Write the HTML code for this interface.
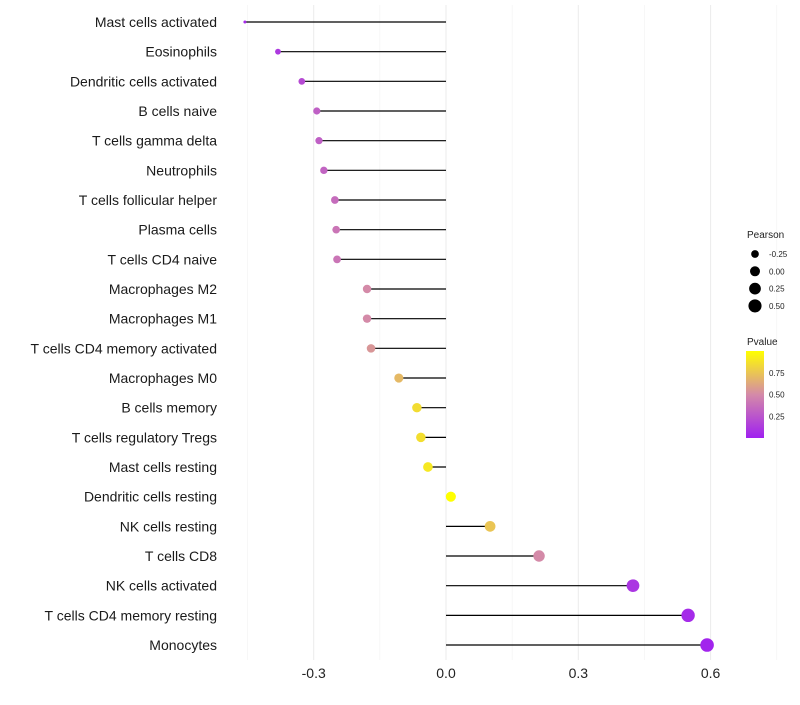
<!DOCTYPE html>
<html><head><meta charset="utf-8"><style>
body{margin:0;background:#fff;font-family:"Liberation Sans",sans-serif}
</style></head><body>
<svg id="c" width="800" height="700" xmlns="http://www.w3.org/2000/svg"></svg>
<script>
const categories=["Mast cells activated","Eosinophils","Dendritic cells activated","B cells naive","T cells gamma delta","Neutrophils","T cells follicular helper","Plasma cells","T cells CD4 naive","Macrophages M2","Macrophages M1","T cells CD4 memory activated","Macrophages M0","B cells memory","T cells regulatory  Tregs ","Mast cells resting","Dendritic cells resting","NK cells resting","T cells CD8","NK cells activated","T cells CD4 memory resting","Monocytes"];
const pearson=[-0.456,-0.381,-0.327,-0.293,-0.288,-0.277,-0.252,-0.249,-0.247,-0.179,-0.179,-0.170,-0.107,-0.066,-0.057,-0.041,0.011,0.10,0.211,0.424,0.549,0.592];
const pvalue=[0.05,0.12,0.2,0.3,0.3,0.32,0.36,0.4,0.4,0.5,0.5,0.55,0.7,0.85,0.86,0.9,1.0,0.75,0.5,0.1,0.05,0.02];
const xTicks=[-0.3,0,0.3,0.6];
const xTickLabels=["-0.3","0.0","0.3","0.6"];
const minorTicks=[-0.45,-0.15,0.15,0.45,0.75];
const sizeLegend=[-0.25,0,0.25,0.5];
const sizeLegendLabels=["-0.25","0.00","0.25","0.50"];
const colorLegend=[0.25,0.5,0.75];
const colorLegendLabels=["0.25","0.50","0.75"];

const NS="http://www.w3.org/2000/svg";
const svg=document.getElementById('c');
const x=v=>446+v*441;
const y=i=>22+i*29.667;
const pmin=Math.min(...pearson),pmax=Math.max(...pearson);
const r=v=>{const t=Math.max(0,Math.min(1,(v-pmin)/(pmax-pmin)));return 1.5+5.3*Math.sqrt(t);};
function lerp(a,b,t){return a.map((c,k)=>Math.round(c+(b[k]-c)*t));}
function col(p){const s=[[160,32,240],[212,138,168],[255,255,0]];let c=p<0.5?lerp(s[0],s[1],p/0.5):lerp(s[1],s[2],(p-0.5)/0.5);return `rgb(${c})`;}
function el(t,a,txt){const e=document.createElementNS(NS,t);for(const k in a)e.setAttribute(k,a[k]);if(txt!=null)e.textContent=txt;svg.appendChild(e);return e;}

minorTicks.forEach(v=>{const l=el('line',{x1:x(v),x2:x(v),y1:5,y2:660,stroke:'#f2f2f2','stroke-width':0.6});

});
xTicks.forEach((v,i)=>{const l=el('line',{x1:x(v),x2:x(v),y1:5,y2:660,stroke:'#ebebeb','stroke-width':1});


const t=el('text',{x:x(v),y:678,'text-anchor':'middle','font-size':14,fill:'#222'},xTickLabels[i]);

});

categories.forEach((c,i)=>{
const t=el('text',{x:217,y:y(i)+5,'text-anchor':'end','font-size':14,fill:'#1a1a1a'},c);


const l=el('line',{x1:x(0),x2:x(pearson[i]),y1:y(i),y2:y(i),stroke:'#000','stroke-width':1.2});


const d=el('circle',{cx:x(pearson[i]),cy:y(i),r:r(pearson[i]),fill:col(pvalue[i])});


});

const lt=el('text',{x:747,y:238,'font-size':10,fill:'#222'},'Pearson');


sizeLegend.forEach((v,i)=>{
const cy=254+i*17.3;
const d=el('circle',{cx:755,cy:cy,r:r(v),fill:'#000'});


const t=el('text',{x:769,y:cy+3,'font-size':8,fill:'#222'},sizeLegendLabels[i]);

});

const ct=el('text',{x:747,y:345,'font-size':10,fill:'#222'},'Pvalue');


const defs=el('defs',{});
const g=document.createElementNS(NS,'linearGradient');g.setAttribute('id','pg');g.setAttribute('x1','0');g.setAttribute('y1','1');g.setAttribute('x2','0');g.setAttribute('y2','0');
[0,0.25,0.5,0.75,1].forEach(p=>{const s=document.createElementNS(NS,'stop');s.setAttribute('offset',p);s.setAttribute('stop-color',col(p));g.appendChild(s);});
defs.appendChild(g);
const bar=el('rect',{x:746,y:351,width:18,height:87,fill:'url(#pg)'});


colorLegend.forEach((v,i)=>{const cy=438-v*87;
const t=el('text',{x:769,y:cy+3,'font-size':8,fill:'#222'},colorLegendLabels[i]);

});
</script>
</body></html>
